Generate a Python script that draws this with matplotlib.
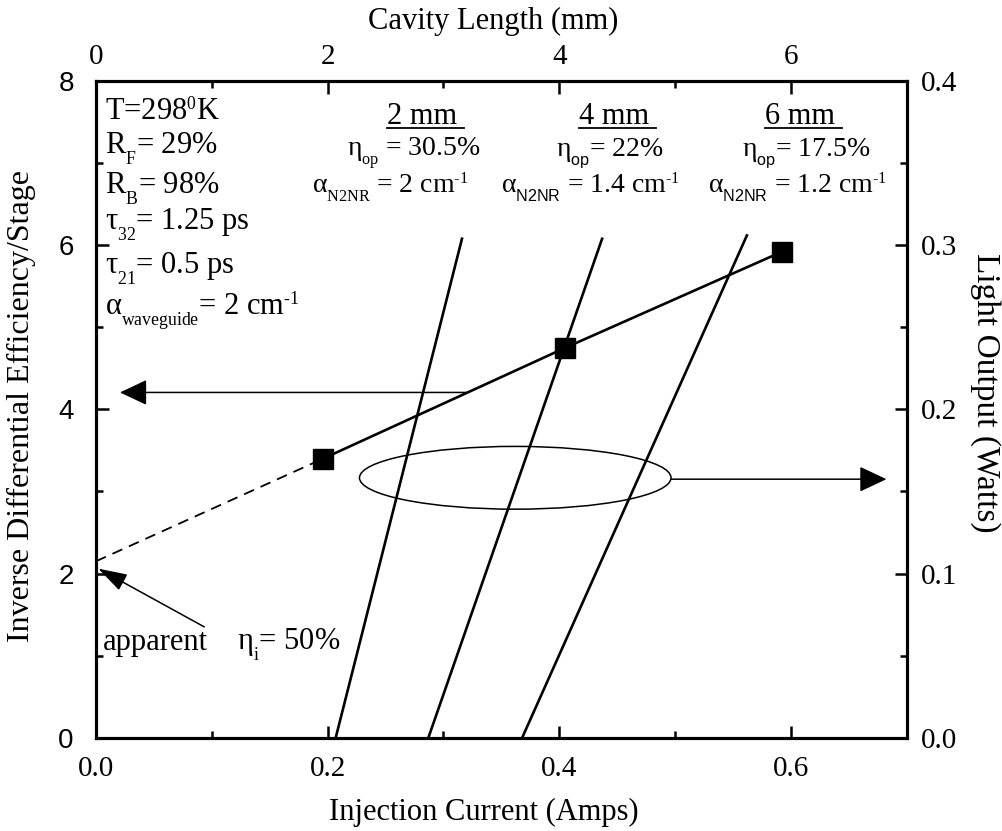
import matplotlib
matplotlib.use("Agg")
import matplotlib.pyplot as plt
import matplotlib._mathtext as mt
from matplotlib.patches import Ellipse
from matplotlib.lines import Line2D
from matplotlib.ticker import MultipleLocator, FormatStrFormatter

plt.rcParams['font.family'] = ['Liberation Serif', 'DejaVu Serif']
plt.rcParams['mathtext.fontset'] = 'custom'
plt.rcParams['mathtext.rm'] = 'Liberation Serif'
plt.rcParams['mathtext.it'] = 'Liberation Serif:italic'
plt.rcParams['mathtext.sf'] = 'Liberation Sans'
# the original uses smaller, lower subscripts than mathtext's default
mt.SHRINK_FACTOR = 0.58
mt.FontConstantsBase.sub1 = 0.75
mt.FontConstantsBase.subdrop = 0.75

# inverse differential efficiency vs cavity length (plotted on the current axis)
current_sq = [0.196, 0.405, 0.592]
inv_eff = [3.40, 4.75, 5.92]
inv_eff_intercept = 2.15

# L-I curves for the three cavity lengths (right axis)
li_current = {
    '2 mm': [0.207, 0.316],
    '4 mm': [0.287, 0.437],
    '6 mm': [0.368, 0.562],
}
li_power = {
    '2 mm': [0.0, 0.304],
    '4 mm': [0.0, 0.304],
    '6 mm': [0.0, 0.306],
}

HY = '\u2010'  # plain hyphen for the "-1" exponents
params_text = [
    'T=298$^{0}$K',
    'R$_{\\mathrm{F}}$= 29%',
    'R$_{\\mathrm{B}}$= 98%',
    '\u03c4$_{\\mathrm{32}}$= 1.25 ps',
    '\u03c4$_{\\mathrm{21}}$= 0.5 ps',
    '\u03b1$_{\\mathrm{waveguide}}$= 2 cm$^{\\mathrm{' + HY + '1}}$',
]
params_y = [7.52, 7.12, 6.63, 6.19, 5.655, 5.155]

fig = plt.figure(figsize=(10.03, 8.31), dpi=100)
ax = fig.add_axes([0.0957, 0.1123, 0.8083, 0.790])
axr = ax.twinx()
axt = ax.twiny()

lw_spine = 2.2
for a in (ax, axr, axt):
    for s in a.spines.values():
        s.set_linewidth(lw_spine)

ax.set_xlim(0, 0.7)
ax.set_ylim(0, 8)
axr.set_ylim(0, 0.4)
axt.set_xlim(0, 7)

ax.xaxis.set_major_locator(MultipleLocator(0.2))
ax.xaxis.set_minor_locator(MultipleLocator(0.1))
ax.xaxis.set_major_formatter(FormatStrFormatter('%.1f'))
ax.yaxis.set_major_locator(MultipleLocator(2))
ax.yaxis.set_minor_locator(MultipleLocator(1))
axr.yaxis.set_major_locator(MultipleLocator(0.1))
axr.yaxis.set_minor_locator(MultipleLocator(0.05))
axr.yaxis.set_major_formatter(FormatStrFormatter('%.1f'))
axt.xaxis.set_major_locator(MultipleLocator(2))
axt.xaxis.set_minor_locator(MultipleLocator(1))

ax.tick_params(axis='x', which='both', direction='in', labelsize=21, pad=13, top=False)
ax.tick_params(axis='y', which='both', direction='in', labelsize=20, pad=16, right=False)
axr.tick_params(axis='y', which='both', direction='in', labelsize=21, pad=10)
axt.tick_params(axis='x', which='both', direction='in', labelsize=21, pad=8)
for a in (ax, axr, axt):
    a.tick_params(which='major', length=9, width=1.8)
    a.tick_params(which='minor', length=4.8, width=1.8)
for lab in ax.get_yticklabels():
    lab.set_fontfamily('Liberation Sans')

ax.set_xlabel('Injection Current (Amps)', fontsize=22)
ax.xaxis.set_label_coords(0.4786, -0.092)
ax.set_ylabel('Inverse Differential Efficiency/Stage', fontsize=23)
ax.yaxis.set_label_coords(-0.074, 0.505)
axr.set_ylabel('Light Output (Watts)', fontsize=24, rotation=270, va='center')
axr.yaxis.set_label_coords(1.0966, 0.526)
axt.set_xlabel('Cavity Length (mm)', fontsize=22)
axt.xaxis.set_label_coords(0.49, 1.08)

# inverse efficiency points + fit
ax.plot(current_sq, inv_eff, color='black', lw=1.9, marker='s', ms=14, zorder=5)
ax.plot([0, current_sq[0]], [inv_eff_intercept, inv_eff[0]], color='black', lw=1.3,
        ls=(0, (6, 4)))

# L-I lines
for key in li_current:
    axr.plot(li_current[key], li_power[key], color='black', lw=1.9)

# ellipse + arrows
ell = Ellipse((0.362, 3.167), 0.269, 0.765, fill=False, ec='black', lw=1.1)
ax.add_patch(ell)
arrow_big = dict(arrowstyle='-|>,head_length=0.85,head_width=0.4', color='black',
                 lw=1.1, shrinkA=0, shrinkB=0, mutation_scale=20)
ax.annotate('', xy=(0.6825, 3.15), xytext=(0.4965, 3.15), arrowprops=arrow_big)
ax.annotate('', xy=(0.0207, 4.207), xytext=(0.321, 4.207), arrowprops=arrow_big)
ax.annotate('', xy=(0.002, 2.06), xytext=(0.0935, 1.35),
            arrowprops=dict(arrowstyle='-|>,head_length=0.9,head_width=0.28', color='black',
                            lw=1.1, shrinkA=0, shrinkB=0, mutation_scale=20))

# parameter block
fs = 22
fs2 = 20
for t, y in zip(params_text, params_y):
    ax.text(0.0078, y, t, fontsize=fs, ha='left', va='baseline')

ax.text(0.006, 1.07, 'apparent', fontsize=fs, ha='left', va='baseline')
ax.text(0.1215, 1.07, '\u03b7$_{\\mathrm{i}}$= 50%', fontsize=fs, ha='left', va='baseline')

# cavity length labels
sup = '$^{\\mathrm{' + HY + '1}}$'
eta_y = 7.08
heads = []
heads.append(ax.text(0.2818, 7.484, '2 mm', fontsize=fs, ha='center', va='baseline'))
ax.text(0.2745, eta_y, '\u03b7$_{\\mathrm{op}}$ = 30.5%', fontsize=fs2, ha='center', va='baseline')
ax.text(0.2538, 6.643, '\u03b1$_{\\mathrm{N2NR}}$ = 2 cm' + sup, fontsize=fs2,
        ha='center', va='baseline')
heads.append(ax.text(0.4471, 7.484, '4 mm', fontsize=fs, ha='center', va='baseline'))
ax.text(0.4437, eta_y, '\u03b7$_{\\mathsf{op}}$= 22%', fontsize=fs2, ha='center', va='baseline')
ax.text(0.4273, 6.643, '\u03b1$_{\\mathsf{N2NR}}$ = 1.4 cm' + sup, fontsize=fs2,
        ha='center', va='baseline')
heads.append(ax.text(0.6081, 7.484, '6 mm', fontsize=fs, ha='center', va='baseline'))
ax.text(0.6135, eta_y, '\u03b7$_{\\mathsf{op}}$= 17.5%', fontsize=fs2, ha='center', va='baseline')
ax.text(0.6056, 6.643, '\u03b1$_{\\mathsf{N2NR}}$ = 1.2 cm' + sup, fontsize=fs2,
        ha='center', va='baseline')

# underline the cavity length headings
fig.canvas.draw()
renderer = fig.canvas.get_renderer()
for h in heads:
    bb = h.get_window_extent(renderer)
    xb, yb = ax.transData.transform(h.get_position())
    y_line = yb - 4
    line = Line2D([bb.x0, bb.x1 + 7], [y_line, y_line], color='black', lw=1.3,
                  transform=None)
    fig.add_artist(line)

fig.savefig('out.png', dpi=100)
